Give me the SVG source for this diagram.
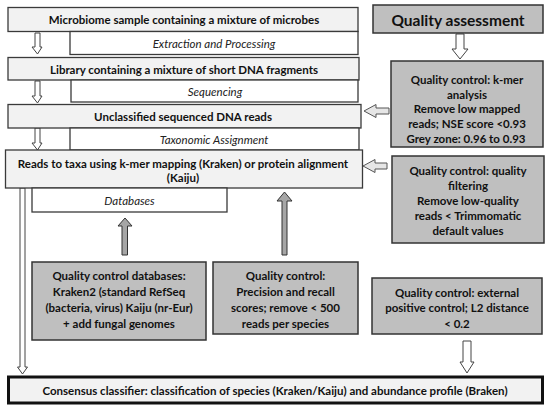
<svg xmlns="http://www.w3.org/2000/svg" width="550" height="410" viewBox="0 0 550 410">
<style>
.main{fill:#f2f2f2;stroke:#3a3a3a;stroke-width:1.3}
.sub{fill:#ffffff;stroke:#3a3a3a;stroke-width:1.3}
.qc{fill:#bfbfbf;stroke:#333333;stroke-width:1.5}
.t{font-family:Lato,"Open Sans",sans-serif;font-weight:bold;font-size:11.5px;fill:#111;text-anchor:middle;dominant-baseline:central}
.i{font-family:Lato,"Open Sans",sans-serif;font-style:italic;font-size:11.5px;fill:#222;text-anchor:middle;dominant-baseline:central}
.wa{fill:#ffffff;stroke:#444;stroke-width:1}
.la{fill:#e6e6e6;stroke:#555;stroke-width:1}
.ga{fill:#a6a6a6;stroke:#333;stroke-width:1}
</style>
<g id="connectors">
<path class="wa" d="M35,33 H40 V47 H42 L37.5,54 L32,47 H35 Z"/>
<path class="wa" d="M35,81 H40 V96 H42 L37.5,103 L32,96 H35 Z"/>
<path class="wa" d="M35,128 H40 V143 H42 L37.5,150 L32,143 H35 Z"/>
<path class="wa" d="M20,188 H25 V367 H27.5 L22.5,374 L17.5,367 H20 Z"/>
<path class="wa" d="M456,34 H464 V49 H468 L460,59 L452,49 H456 Z"/>
<path class="wa" d="M463,341 H471 V362 H474 L467,373 L460,362 H463 Z"/>
<path class="la" d="M389,108 H376 V104.5 L364,111 L376,117.5 V114 H389 Z"/>
<path class="la" d="M387,163 H375 V159.5 L363,166 L375,172.5 V169 H387 Z"/>
<path class="ga" d="M122,255 V226 H118 L125,218 L132,226 H127.5 V255 Z"/>
<path class="ga" d="M282,255 V201 H277 L284.5,192 L292,201 H287 V255 Z"/>
</g>
<g id="n1"><rect class="main" x="8" y="7.5" width="350" height="24"/><text class="t" x="184" y="19.5">Microbiome sample containing a mixture of microbes</text></g>
<g id="n1s"><rect class="sub" x="70" y="31.5" width="288" height="23"/><text class="i" x="214" y="43">Extraction and Processing</text></g>
<g id="n2"><rect class="main" x="8" y="57.5" width="351" height="22.5"/><text class="t" x="184" y="69">Library containing a mixture of short DNA fragments</text></g>
<g id="n2s"><rect class="sub" x="71" y="80" width="287" height="22"/><text class="i" x="215" y="91.5">Sequencing</text></g>
<g id="n3"><rect class="main" x="8" y="104.5" width="353" height="23.5"/><text class="t" x="183" y="116.5">Unclassified sequenced DNA reads</text></g>
<g id="n3s"><rect class="sub" x="70" y="128" width="289" height="22"/><text class="i" x="214" y="139.5">Taxonomic Assignment</text></g>
<g id="n4"><rect class="main" x="5.5" y="150" width="357" height="38"/><text class="t" x="183" y="163">Reads to taxa using k-mer mapping (Kraken) or protein alignment</text><text class="t" x="183" y="177.5">(Kaiju)</text></g>
<g id="n4s"><rect class="sub" x="32" y="188" width="195" height="24"/><text class="i" x="129.5" y="200">Databases</text></g>
<g id="qa"><rect class="qc" x="373" y="5" width="170" height="28"/><text class="t" x="458" y="19.5" style="font-size:15.5px">Quality assessment</text></g>
<g id="qc1"><rect class="qc" x="391" y="61" width="152" height="86"/>
<text class="t" x="467" y="79">Quality control: k-mer</text>
<text class="t" x="467" y="94">analysis</text>
<text class="t" x="467" y="108.5">Remove low mapped</text>
<text class="t" x="467" y="123">reads; NSE score &lt;0.93</text>
<text class="t" x="466" y="138">Grey zone: 0.96 to 0.93</text></g>
<g id="qc2"><rect class="qc" x="392" y="156" width="152" height="87"/>
<text class="t" x="468" y="170.5">Quality control: quality</text>
<text class="t" x="468" y="185">filtering</text>
<text class="t" x="468" y="200.5">Remove low-quality</text>
<text class="t" x="468" y="215.5">reads &lt; Trimmomatic</text>
<text class="t" x="468" y="230.5">default values</text></g>
<g id="qc3"><rect class="qc" x="32" y="262" width="174" height="78"/>
<text class="t" x="119" y="275">Quality control databases:</text>
<text class="t" x="119" y="291">Kraken2 (standard RefSeq</text>
<text class="t" x="119" y="307">(bacteria, virus) Kaiju (nr-Eur)</text>
<text class="t" x="119" y="323">+ add fungal genomes</text></g>
<g id="qc4"><rect class="qc" x="213" y="262" width="145" height="72"/>
<text class="t" x="285.5" y="275">Quality control:</text>
<text class="t" x="285.5" y="291">Precision and recall</text>
<text class="t" x="285.5" y="307">scores; remove &lt; 500</text>
<text class="t" x="285.5" y="323">reads per species</text></g>
<g id="qc5"><rect class="qc" x="372" y="278" width="170" height="56"/>
<text class="t" x="457" y="292">Quality control: external</text>
<text class="t" x="457" y="307.5">positive control; L2 distance</text>
<text class="t" x="457" y="323">&lt; 0.2</text></g>
<g id="out"><rect x="8.5" y="377" width="534" height="26" style="fill:#f2f2f2;stroke:#111;stroke-width:3"/><text class="t" x="275" y="390">Consensus classifier: classification of species (Kraken/Kaiju) and abundance profile (Braken)</text></g>
</svg>
